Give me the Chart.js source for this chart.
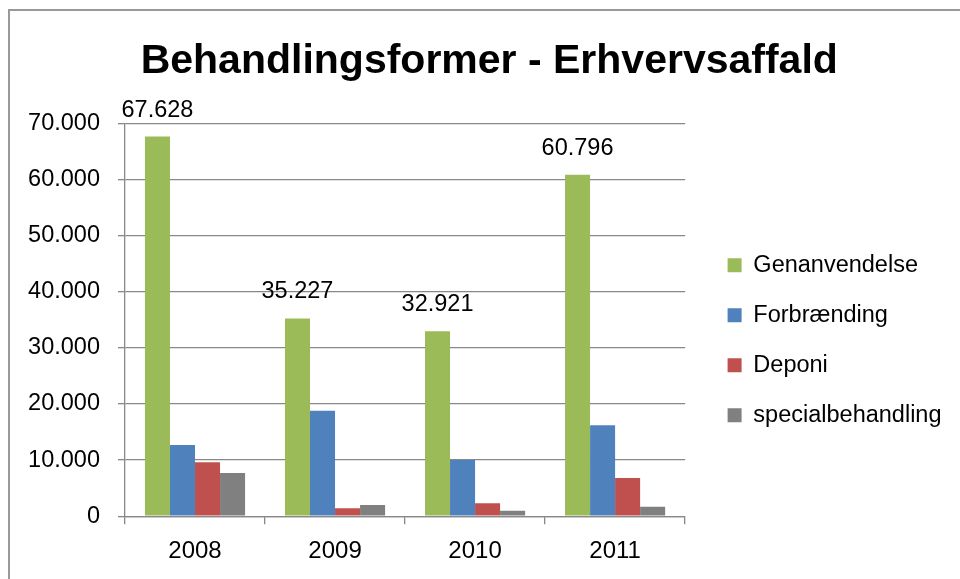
<!DOCTYPE html>
<html lang="da">
<head>
  <meta charset="UTF-8">
  <title>Behandlingsformer - Erhvervsaffald</title>
  <script src="https://cdn.jsdelivr.net/npm/chart.js"></script>
  <style>
    html, body { margin: 0; padding: 0; background: #fff; }
    .wrap { position: relative; width: 960px; height: 579px; overflow: hidden; }
    .frame { position: absolute; left: 8px; top: 9px; width: 1000px; height: 700px; border: 2px solid #999; }
    canvas { position: absolute; left: 0; top: 0; }
  </style>
</head>
<body>
  <div class="wrap">
    <div class="frame"></div>
    <canvas id="chart" width="960" height="579"></canvas>
  </div>
  <script>
    // data
    const years = ['2008', '2009', '2010', '2011'];
    const genanvendelse = [67628, 35227, 32921, 60796];
    const forbraending = [12700, 18800, 10000, 16200];
    const deponi = [9600, 1400, 2300, 6800];
    const special = [7700, 2000, 950, 1700];

    const FONT = 'Liberation Sans, Arial, sans-serif';

    // 70000 -> "70.000"
    function fmt(v) {
      return Math.round(v).toString().replace(/\B(?=(\d{3})+(?!\d))/g, '.');
    }

    // value labels only on the first series
    const valueLabels = {
      id: 'valueLabels',
      afterDatasetsDraw(chart) {
        const ctx = chart.ctx;
        const meta = chart.getDatasetMeta(0);
        ctx.save();
        ctx.font = '23.5px ' + FONT;
        ctx.fillStyle = '#000';
        ctx.textAlign = 'center';
        ctx.textBaseline = 'alphabetic';
        meta.data.forEach((bar, i) => {
          ctx.fillText(fmt(chart.data.datasets[0].data[i]), bar.x, bar.y - 20);
        });
        ctx.restore();
      }
    };

    const gridColor = '#888888';

    new Chart(document.getElementById('chart'), {
      type: 'bar',
      data: {
        labels: years,
        datasets: [
          { label: 'Genanvendelse', data: genanvendelse, backgroundColor: '#9BBB59' },
          { label: 'Forbrænding', data: forbraending, backgroundColor: '#4F81BD' },
          { label: 'Deponi', data: deponi, backgroundColor: '#C0504D' },
          { label: 'specialbehandling', data: special, backgroundColor: '#808080' }
        ]
      },
      options: {
        responsive: false,
        animation: false,
        devicePixelRatio: 1,
        categoryPercentage: 0.715,
        barPercentage: 1.0,
        layout: { padding: { left: 27, right: 8.5, top: 0, bottom: 0 } },
        scales: {
          x: {
            grid: { drawOnChartArea: false, drawTicks: true, tickLength: 8, color: gridColor, lineWidth: 1.3 },
            border: { color: gridColor, width: 1.3 },
            ticks: { color: '#000', font: { family: FONT, size: 24 }, padding: 13 }
          },
          y: {
            min: 0,
            max: 70000,
            ticks: { stepSize: 10000, color: '#000', font: { family: FONT, size: 23.5 }, padding: 18, callback: v => fmt(v) },
            grid: { color: gridColor, lineWidth: 1.3, tickLength: 7 },
            border: { color: gridColor, width: 1.3 },
            afterFit(s) { s.width = 98; }
          },
          // empty axis only to leave a gap between plot and legend
          gap: {
            position: 'right',
            display: true,
            grid: { display: false },
            border: { display: false },
            ticks: { display: false },
            afterFit(s) { s.width = 16; }
          }
        },
        plugins: {
          title: {
            display: true,
            text: 'Behandlingsformer - Erhvervsaffald',
            color: '#000',
            font: { family: FONT, size: 41, weight: 'bold', lineHeight: 1.2 },
            padding: { top: 37, bottom: 37 }
          },
          legend: {
            position: 'right',
            fullSize: false,
            maxWidth: 320,
            title: { display: true, text: '', padding: { top: 26.5, bottom: 0 } },
            labels: {
              color: '#000',
              font: { family: FONT, size: 23.5 },
              boxWidth: 14,
              boxHeight: 14,
              padding: 26.5
            }
          },
          tooltip: { enabled: false }
        }
      },
      plugins: [valueLabels]
    });
  </script>
</body>
</html>
